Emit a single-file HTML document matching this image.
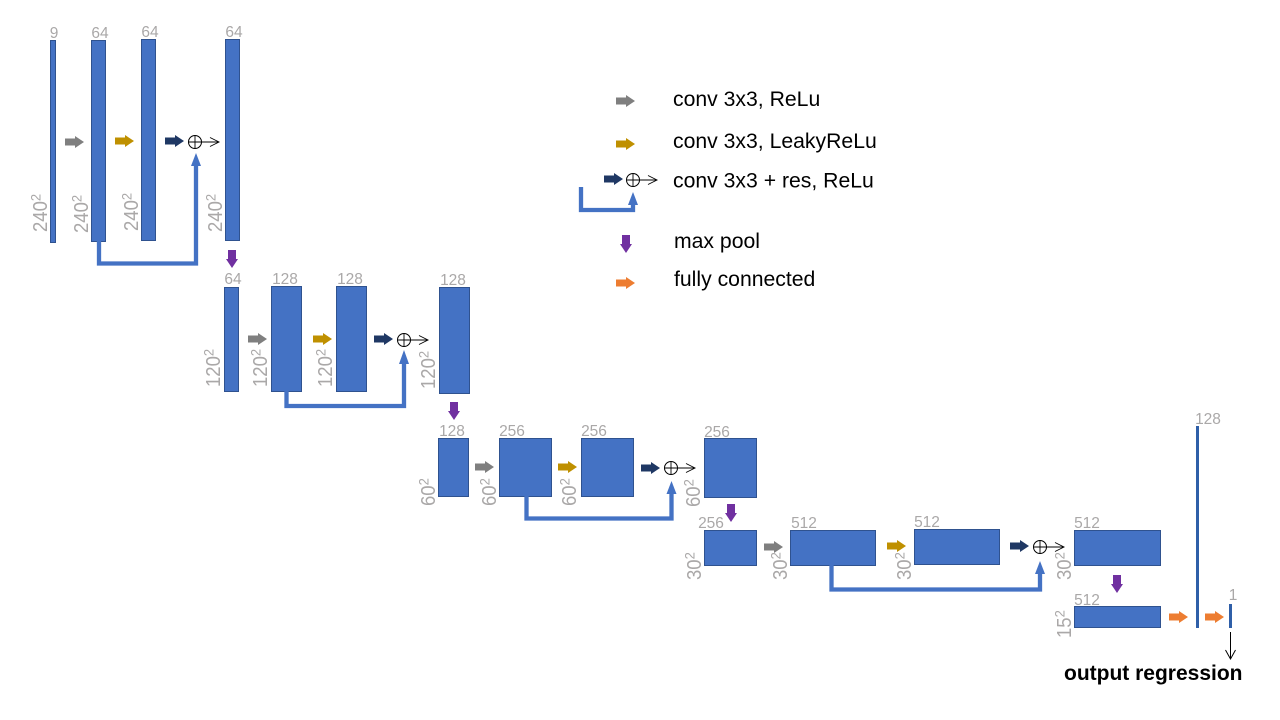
<!DOCTYPE html>
<html><head><meta charset="utf-8"><style>
html,body{margin:0;padding:0;background:#fff}
svg{display:block}
text{font-family:"Liberation Sans",sans-serif}
.n{font-size:15.5px;fill:#aaa8a8}
.r{font-size:18.5px;fill:#aaa8a8}
.s{font-size:13px}
.l{font-size:21.2px;fill:#000}
.b{fill:#4472c4;stroke:#2f528f;stroke-width:1}
.sk{fill:none;stroke:#4472c4;stroke-width:4.300}
.k{fill:none;stroke:#000;stroke-width:1}
</style></head><body>
<svg width="1280" height="720" viewBox="0 0 1280 720" xmlns="http://www.w3.org/2000/svg">
<defs>
<polygon id="a" points="0,-3.500 10,-3.500 10,-6 19,0 10,6 10,3.500 0,3.500"/>
<polygon id="d" points="-4,0 4,0 4,9 6,9 0,18 -6,9 -4,9"/>
<g id="p"><circle cx="0" cy="0" r="6.500" fill="none" stroke="#000" stroke-width="1"/><path d="M-6.500 0H6.500M0 -6.500V6.500M6.500 0H24M15 -4.500L24 0L15 4.500" fill="none" stroke="#000" stroke-width="0.900"/></g>
</defs>

<!-- blocks -->
<rect class="b" x="50.500" y="40.500" width="5" height="202"/>
<rect class="b" x="91.500" y="40.500" width="14" height="201"/>
<rect class="b" x="141.500" y="39.500" width="14" height="201"/>
<rect class="b" x="225.500" y="39.500" width="14" height="201"/>
<rect class="b" x="224.500" y="287.500" width="14" height="104"/>
<rect class="b" x="271.500" y="286.500" width="30" height="105"/>
<rect class="b" x="336.500" y="286.500" width="30" height="105"/>
<rect class="b" x="439.500" y="287.500" width="30" height="106"/>
<rect class="b" x="438.500" y="438.500" width="30" height="58"/>
<rect class="b" x="499.500" y="438.500" width="52" height="58"/>
<rect class="b" x="581.500" y="438.500" width="52" height="58"/>
<rect class="b" x="704.500" y="438.500" width="52" height="59"/>
<rect class="b" x="704.500" y="530.500" width="52" height="35"/>
<rect class="b" x="790.500" y="530.500" width="85" height="35"/>
<rect class="b" x="914.500" y="529.500" width="85" height="35"/>
<rect class="b" x="1074.500" y="530.500" width="86" height="35"/>
<rect class="b" x="1074.500" y="606.500" width="86" height="21"/>
<rect x="1196" y="426" width="3" height="202" fill="#2f5fa8"/>
<rect x="1229" y="604" width="3" height="24" fill="#2f5fa8"/>

<!-- skip connections -->
<path class="sk" d="M99 241V263.500H196V165"/>
<polygon points="196,153 201,166 191,166" fill="#4472c4"/>
<path class="sk" d="M286.500 391V406H404V362"/>
<polygon points="404,350 409,364 399,364" fill="#4472c4"/>
<path class="sk" d="M526.500 496V518.500H671.500V492"/>
<polygon points="671.500,481 676.500,494 666.500,494" fill="#4472c4"/>
<path class="sk" d="M831.500 565V589.500H1040V572"/>
<polygon points="1040,561 1045,574 1035,574" fill="#4472c4"/>

<!-- gray -->
<use href="#a" x="65" y="142" fill="#7f7f7f"/>
<use href="#a" x="248" y="339" fill="#7f7f7f"/>
<use href="#a" x="475" y="467" fill="#7f7f7f"/>
<use href="#a" x="764" y="547" fill="#7f7f7f"/>
<use href="#a" x="616" y="101" fill="#7f7f7f"/>
<!-- gold -->
<use href="#a" x="115" y="141" fill="#bf9000"/>
<use href="#a" x="313" y="339" fill="#bf9000"/>
<use href="#a" x="558" y="467" fill="#bf9000"/>
<use href="#a" x="887" y="546" fill="#bf9000"/>
<use href="#a" x="616" y="144" fill="#bf9000"/>
<!-- navy + circle plus -->
<use href="#a" x="165" y="141" fill="#1f3864"/><use href="#p" x="195" y="142"/>
<use href="#a" x="374" y="339" fill="#1f3864"/><use href="#p" x="404" y="340"/>
<use href="#a" x="641" y="468" fill="#1f3864"/><use href="#p" x="671" y="468"/>
<use href="#a" x="1010" y="546" fill="#1f3864"/><use href="#p" x="1040" y="547"/>
<use href="#a" x="604" y="179" fill="#1f3864"/><use href="#p" x="633" y="180"/>
<!-- legend skip -->
<path class="sk" d="M581 187V210H633V204"/>
<polygon points="633,192 638,205 628,205" fill="#4472c4"/>
<!-- purple -->
<use href="#d" x="232" y="250" fill="#7030a0"/>
<use href="#d" x="454" y="402" fill="#7030a0"/>
<use href="#d" x="731" y="504" fill="#7030a0"/>
<use href="#d" x="1117" y="575" fill="#7030a0"/>
<use href="#d" x="626" y="235" fill="#7030a0"/>
<!-- orange -->
<use href="#a" x="1169" y="617" fill="#ed7d31"/>
<use href="#a" x="1205" y="617" fill="#ed7d31"/>
<use href="#a" x="616" y="283" fill="#ed7d31"/>
<!-- output -->
<path class="k" d="M1230.500 632V659M1225.500 650L1230.500 659L1235.500 650"/>

<!-- top numbers -->
<g class="n" text-anchor="middle">
<text x="54" y="38">9</text><text x="100" y="38">64</text><text x="150" y="37">64</text><text x="234" y="37">64</text>
<text x="233" y="284">64</text><text x="285" y="284">128</text><text x="350" y="284">128</text><text x="453" y="285">128</text>
<text x="452" y="436">128</text><text x="512" y="436">256</text><text x="594" y="436">256</text><text x="717" y="437">256</text>
<text x="711" y="528">256</text><text x="804" y="528">512</text><text x="927" y="527">512</text><text x="1087" y="528">512</text>
<text x="1087" y="605">512</text><text x="1208" y="424">128</text><text x="1233" y="600">1</text>
</g>

<!-- rotated numbers -->
<g class="r">
<text transform="translate(47 232) rotate(-90) scale(1 1.08)">240<tspan class="s" dy="-6">2</tspan></text>
<text transform="translate(88 233) rotate(-90) scale(1 1.08)">240<tspan class="s" dy="-6">2</tspan></text>
<text transform="translate(138 231) rotate(-90) scale(1 1.08)">240<tspan class="s" dy="-6">2</tspan></text>
<text transform="translate(222 232) rotate(-90) scale(1 1.08)">240<tspan class="s" dy="-6">2</tspan></text>
<text transform="translate(220 387) rotate(-90) scale(1 1.08)">120<tspan class="s" dy="-6">2</tspan></text>
<text transform="translate(267 387) rotate(-90) scale(1 1.08)">120<tspan class="s" dy="-6">2</tspan></text>
<text transform="translate(332 387) rotate(-90) scale(1 1.08)">120<tspan class="s" dy="-6">2</tspan></text>
<text transform="translate(435 389) rotate(-90) scale(1 1.08)">120<tspan class="s" dy="-6">2</tspan></text>
<text transform="translate(435 506) rotate(-90) scale(1 1.08)">60<tspan class="s" dy="-6">2</tspan></text>
<text transform="translate(496 506) rotate(-90) scale(1 1.08)">60<tspan class="s" dy="-6">2</tspan></text>
<text transform="translate(576 506) rotate(-90) scale(1 1.08)">60<tspan class="s" dy="-6">2</tspan></text>
<text transform="translate(700 507) rotate(-90) scale(1 1.08)">60<tspan class="s" dy="-6">2</tspan></text>
<text transform="translate(701 580) rotate(-90) scale(1 1.08)">30<tspan class="s" dy="-6">2</tspan></text>
<text transform="translate(787 580) rotate(-90) scale(1 1.08)">30<tspan class="s" dy="-6">2</tspan></text>
<text transform="translate(911 580) rotate(-90) scale(1 1.08)">30<tspan class="s" dy="-6">2</tspan></text>
<text transform="translate(1071 580) rotate(-90) scale(1 1.08)">30<tspan class="s" dy="-6">2</tspan></text>
<text transform="translate(1071 638) rotate(-90) scale(1 1.08)">15<tspan class="s" dy="-6">2</tspan></text>
</g>

<!-- legend -->
<text class="l" x="673" y="106">conv 3x3, ReLu</text>
<text class="l" x="673" y="148">conv 3x3, LeakyReLu</text>
<text class="l" x="673" y="187.500">conv 3x3 + res, ReLu</text>
<text class="l" x="674" y="248">max pool</text>
<text class="l" x="674" y="286">fully connected</text>
<text x="1064" y="680" font-size="21" font-weight="bold" fill="#000">output regression</text>
</svg>
</body></html>
